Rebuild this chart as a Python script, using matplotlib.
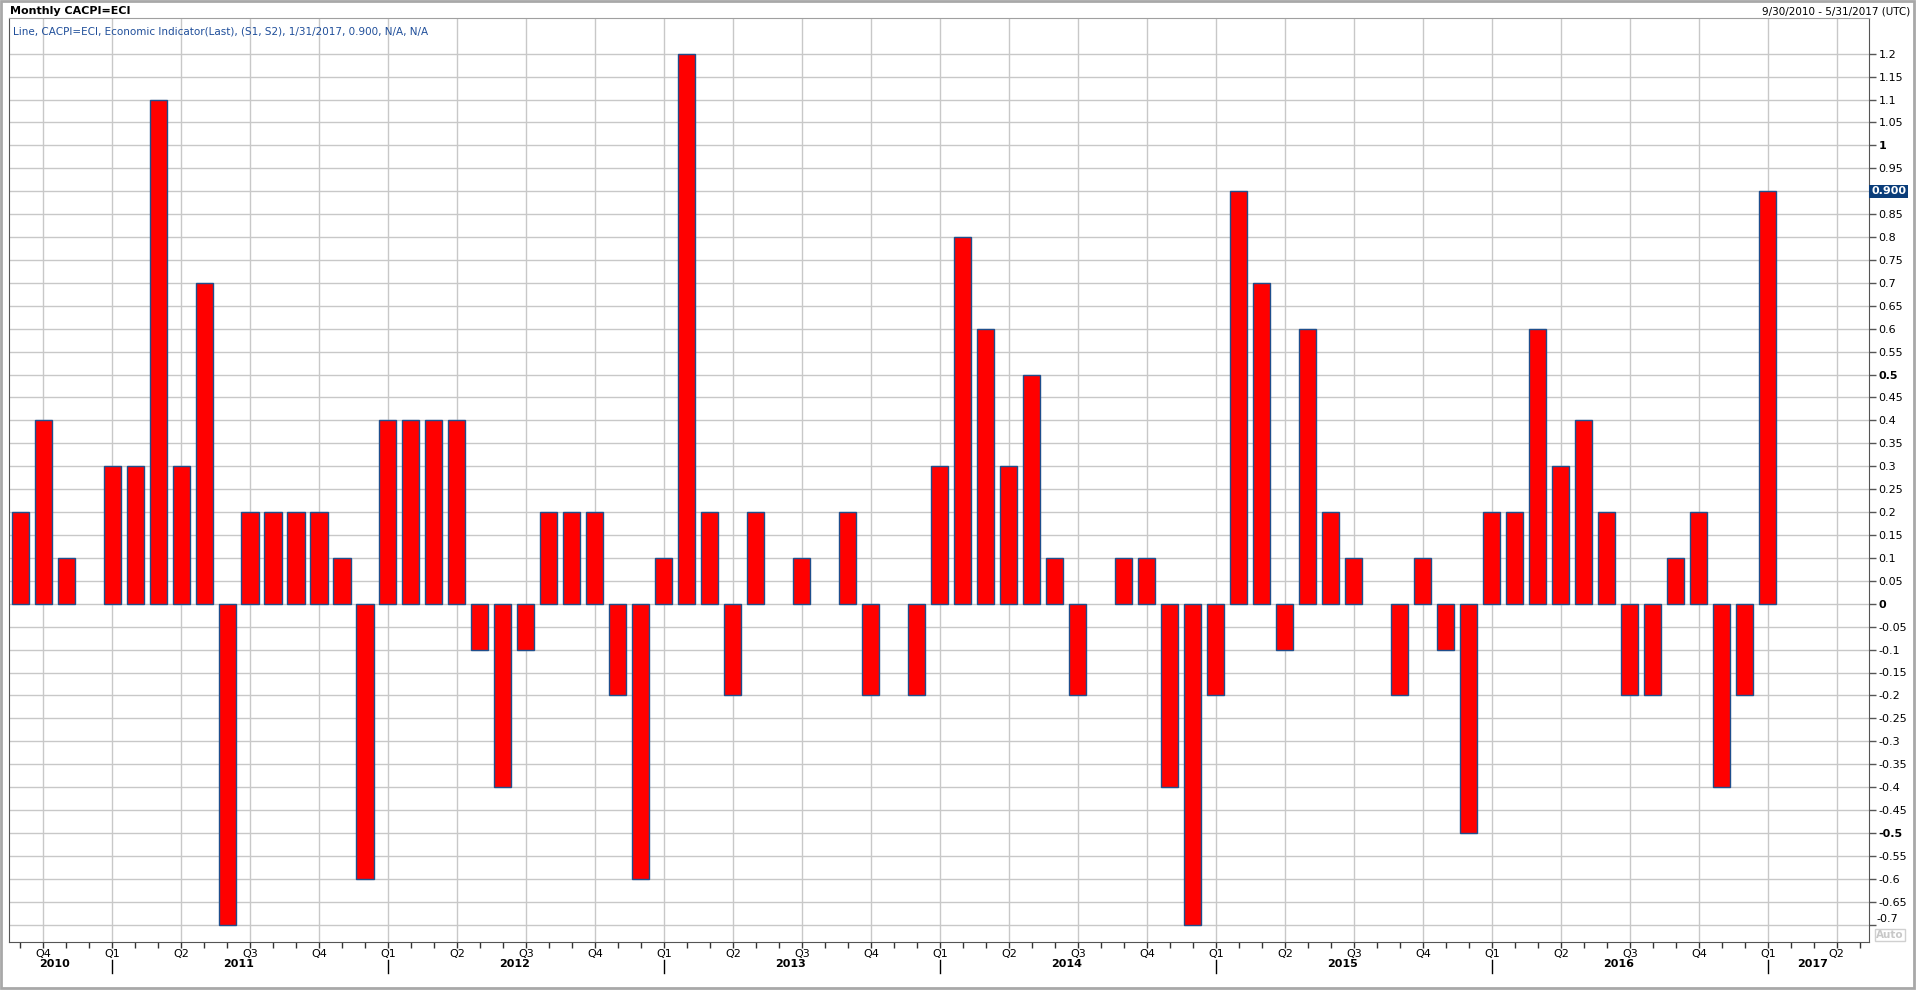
import matplotlib
matplotlib.use("Agg")
import matplotlib.pyplot as plt
import matplotlib.transforms as mtransforms
from matplotlib.patches import Rectangle
import numpy as np
import pandas as pd

# monthly values, Sep 2010 .. Jan 2017
vals_2010 = [0.2, 0.4, 0.1, 0.0]
vals_2011 = [0.3, 0.3, 1.1, 0.3, 0.7, -0.7, 0.2, 0.2, 0.2, 0.2, 0.1, -0.6]
vals_2012 = [0.4, 0.4, 0.4, 0.4, -0.1, -0.4, -0.1, 0.2, 0.2, 0.2, -0.2, -0.6]
vals_2013 = [0.1, 1.2, 0.2, -0.2, 0.2, 0.0, 0.1, 0.0, 0.2, -0.2, 0.0, -0.2]
vals_2014 = [0.3, 0.8, 0.6, 0.3, 0.5, 0.1, -0.2, 0.0, 0.1, 0.1, -0.4, -0.7]
vals_2015 = [-0.2, 0.9, 0.7, -0.1, 0.6, 0.2, 0.1, 0.0, -0.2, 0.1, -0.1, -0.5]
vals_2016 = [0.2, 0.2, 0.6, 0.3, 0.4, 0.2, -0.2, -0.2, 0.1, 0.2, -0.4, -0.2]
vals_2017 = [0.9]

values = vals_2010 + vals_2011 + vals_2012 + vals_2013 + vals_2014 + vals_2015 + vals_2016 + vals_2017
months = pd.period_range("2010-09", "2017-05", freq="M")

title = "Monthly CACPI=ECI"
legend_text = "Line, CACPI=ECI, Economic Indicator(Last), (S1, S2), 1/31/2017, 0.900, N/A, N/A"
date_range_text = "9/30/2010 - 5/31/2017 (UTC)"
last_label = "0.900"

W, H = 1916, 991
fig = plt.figure(figsize=(W / 100, H / 100), dpi=100)
plt.rcParams['font.family'] = ['DejaVu Sans']

ax_left, ax_right, ax_top, ax_bot = 9, 1869, 18, 942
ax = fig.add_axes([ax_left / W, (H - ax_bot) / H, (ax_right - ax_left) / W, (ax_bot - ax_top) / H])

x = np.arange(len(values))
v = np.array(values)
mask = v != 0
ax.bar(x[mask], v[mask], width=0.74, color="#ff0000", edgecolor="#1f4e8c", linewidth=1, zorder=3)

ax.set_xlim(-0.48, 80.4)
ax.set_ylim(-0.738, 1.278)

# horizontal grid every 0.05
yt = np.round(np.arange(-0.7, 1.2001, 0.05), 2)
ax.set_yticks(yt)
labels = []
for t in yt:
    # 0.9 is covered by the last-value box, -0.7 is drawn by hand a bit higher
    if abs(t - 0.9) < 1e-9 or abs(t + 0.7) < 1e-9:
        labels.append("")
    else:
        labels.append(f"{t:g}")
ax.set_yticklabels(labels)
ax.yaxis.tick_right()
ax.tick_params(axis="y", length=5, width=1, color="#555555", labelsize=8, pad=2, labelcolor="black")
for lab, t in zip(ax.get_yticklabels(), yt):
    if abs(t) in (0.0, 0.5, 1.0):
        lab.set_fontweight("bold")

# month ticks, quarter labels
ax.set_xticks(np.arange(len(months)))
qlabels = []
for m in months:
    if m.month in (1, 4, 7, 10):
        qlabels.append(f"Q{(m.month - 1) // 3 + 1}")
    else:
        qlabels.append("")
ax.set_xticklabels(qlabels)
ax.tick_params(axis="x", length=4, width=1, color="#333333", labelsize=8, pad=1)

ax.grid(False)
for i, m in enumerate(months):
    if m.month in (1, 4, 7, 10):
        ax.axvline(i, color="#c8c8c8", lw=1, zorder=1)
for t in yt:
    ax.axhline(t, color="#c8c8c8", lw=1, zorder=1)

for s in ["left", "bottom", "right"]:
    ax.spines[s].set_color("#555555")
ax.spines["top"].set_color("#a0a0a0")

# year labels and separators
trans = mtransforms.blended_transform_factory(ax.transData, ax.transAxes)
axh = ax_bot - ax_top
xmin, xmax = ax.get_xlim()
years = sorted(set(m.year for m in months))
for yr in years:
    idx = [i for i, m in enumerate(months) if m.year == yr]
    lo = max(idx[0] - 0.5, xmin)
    hi = min(idx[-1] + 0.5, xmax)
    ax.text((lo + hi) / 2, -(964 - ax_bot) / axh, str(yr), transform=trans,
            ha="center", va="center", fontsize=8, fontweight="bold")
for i, m in enumerate(months):
    if m.month == 1:
        ax.plot([i, i], [-(960 - ax_bot) / axh, -(973 - ax_bot) / axh], transform=trans,
                color="black", lw=1, clip_on=False)

# last value highlight
ytrans = mtransforms.blended_transform_factory(fig.transFigure, ax.transData)
ax.text(1871 / W, 0.9, last_label, transform=ytrans, ha="left", va="center",
        fontsize=8, fontweight="bold", color="white",
        bbox=dict(boxstyle="square,pad=0.15", facecolor="#0a3d7a", edgecolor="none"))

# bottom tick label, nudged up like the reference
fig.text(1876 / W, 1 - 919 / H, "-0.7", fontsize=8, va="center", ha="left")

# texts
fig.text(10 / W, 1 - 11 / H, title, fontsize=8, fontweight="bold", va="center", ha="left")
fig.text(1910 / W, 1 - 12 / H, date_range_text, fontsize=7.5, va="center", ha="right")
fig.text(13 / W, 1 - 31 / H, legend_text, fontsize=7.5, va="center", ha="left", color="#1f4e9a")
fig.text(1890 / W, 1 - 935 / H, "Auto", fontsize=7.5, va="center", ha="center", color="#c8c8c8",
         fontweight="bold",
         bbox=dict(boxstyle="square,pad=0.1", facecolor="white", edgecolor="#d0d0d0"))

# outer frame
fig.patches.append(Rectangle((1 / W, 3 / H), 1913 / W, (H - 4) / H, transform=fig.transFigure,
                             fill=False, edgecolor="#a8a8a8", lw=2))

fig.savefig("out.png", dpi=100)
